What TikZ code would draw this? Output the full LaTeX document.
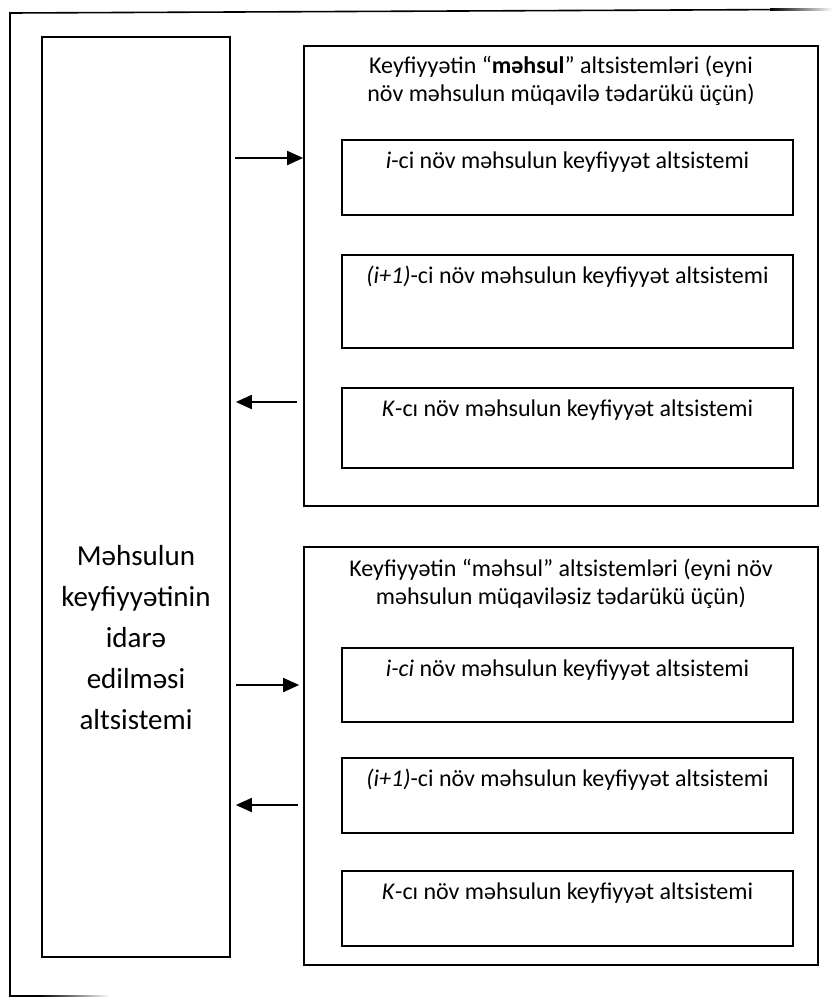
\documentclass[tikz,border=0pt]{standalone}
\usepackage{fontspec}
\setmainfont{Carlito}
\usetikzlibrary{arrows.meta,fit}
\begin{document}
\begin{tikzpicture}[x=0.5pt,y=-0.5pt,
        box/.style={draw,line width=0.85pt,inner sep=0pt},
        arr/.style={-{Triangle[length=8pt,width=7pt]},line width=0.9pt},
        font=\fontsize{12}{14}\selectfont]
        \useasboundingbox (0,0) rectangle (833,997);

        % outer frame, fading at its ends
        \draw[line width=0.8pt] (770,9.6) -- (10,13) -- (10,996) -- (40,996);
        \shade[left color=black,right color=white] (770,8.8) rectangle (833,10.4);
        \shade[left color=black,right color=white] (40,995.2) rectangle (110,996.8);

        % left subsystem
        \node[box,fit={(42,37) (230,957)}] (lbox) {};
        \node[font=\fontsize{14.5}{20.5}\selectfont,align=center] (ltxt) at (136,638)
            {Məhsulun\\keyfiyyətinin\\idarə\\edilməsi\\altsistemi};

        % upper group
        \node[box,fit={(304,46) (818,506)}] (ugrp) {};
        \node[align=center] (utitle) at (561,81)
            {Keyfiyyətin “\textbf{məhsul}” altsistemləri (eyni\\növ məhsulun müqavilə tədarükü üçün)};

        % lower group
        \node[box,fit={(304,547) (818,965)}] (lgrp) {};
        \node[align=center] (ltitle) at (561,584)
            {Keyfiyyətin “məhsul” altsistemləri (eyni növ\\məhsulun müqaviləsiz tədarükü üçün)};

        \foreach \nm/\ya/\yb/\txt in {
                u1/140/215/{\textit{i}-ci növ məhsulun keyfiyyət altsistemi},
                u2/255/348/{\textit{(i+1)}-ci növ məhsulun keyfiyyət altsistemi},
                u3/388/468/{\textit{K}-cı növ məhsulun keyfiyyət altsistemi},
                l1/648/722/{\textit{i-ci} növ məhsulun keyfiyyət altsistemi},
                l2/758/833/{\textit{(i+1)}-ci növ məhsulun keyfiyyət altsistemi},
                l3/871/946/{\textit{K}-cı növ məhsulun keyfiyyət altsistemi}}{
                \node[box,fit={(342,\ya) (793,\yb)}] (\nm) {};
                \node (\nm-t) at ([yshift=-11.5pt]\nm.north) {\txt};
            }

        % connectors
        \coordinate (ya1) at (0,158);
        \coordinate (ya2) at (0,402);
        \coordinate (ya3) at (0,685);
        \coordinate (ya4) at (0,805);
        \draw[arr] ([xshift=2pt]lbox.east |- ya1) -- (ugrp.west |- ya1);
        \draw[arr] ([xshift=-3pt]ugrp.west |- ya2) -- ([xshift=2.5pt]lbox.east |- ya2);
        \draw[arr] ([xshift=2.5pt]lbox.east |- ya3) -- ([xshift=-2pt]lgrp.west |- ya3);
        \draw[arr] ([xshift=-2.5pt]lgrp.west |- ya4) -- ([xshift=2.5pt]lbox.east |- ya4);
    \end{tikzpicture}
\end{document}
